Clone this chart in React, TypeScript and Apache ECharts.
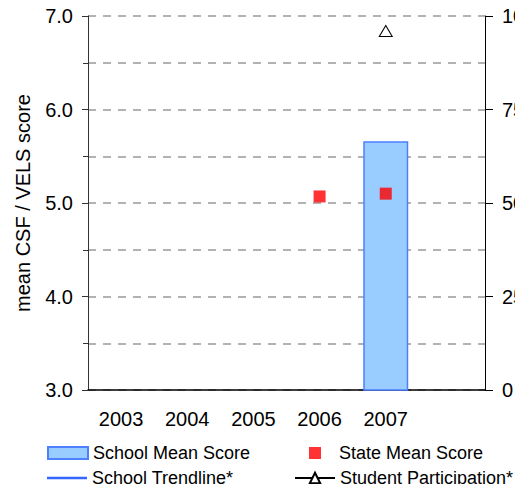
import React, { useEffect, useRef } from "react";
import * as echarts from "echarts";

const categories = ["2003", "2004", "2005", "2006", "2007", ""];
const schoolMean: (number | null)[] = [null, null, null, null, 5.66, null];
const stateMean: (number | null)[] = [null, null, null, 5.07, 5.1, null];
const schoolTrend: (number | null)[] = [null, null, null, null, null, null];
const participation: (number | null)[] = [null, null, null, null, 96, null];

const FONT = "Liberation Sans, Arial, sans-serif";

export default function App() {
  const ref = useRef<HTMLDivElement>(null);
  useEffect(() => {
    if (!ref.current) return;
    const chart = echarts.init(ref.current, null, { renderer: "svg" });
    const legendBase = {
      orient: "horizontal",
      padding: 0,
      itemWidth: 40,
      itemHeight: 13,
      itemGap: 5,
      textStyle: { fontFamily: FONT, fontSize: 18, color: "#000" },
      selectedMode: false,
    };
    chart.setOption({
      animation: false,
      backgroundColor: "#fff",
      textStyle: { fontFamily: FONT },
      grid: { left: 88, right: 30, top: 16, bottom: 94, outerBoundsMode: "none", containLabel: false },
      legend: [
        {
          ...legendBase,
          data: [{ name: "School Mean Score", icon: "rect" }],
          left: 47,
          top: 444,
          itemHeight: 12,
        },
        {
          ...legendBase,
          data: ["State Mean Score"],
          left: 309,
          top: 444,
          itemWidth: 12,
          itemHeight: 12,
          textStyle: { ...legendBase.textStyle, padding: [0, 0, 0, 13] },
        },
        {
          ...legendBase,
          data: [
            {
              name: "School Trendline*",
              icon: "path://M0,0 H40 V2.5 H0 Z",
              itemStyle: { color: "#3366ff" },
            },
          ],
          left: 47,
          top: 469,
          itemHeight: 2.5,
        },
        { ...legendBase, data: ["Student Participation*"], left: 294, top: 469 },
      ],
      xAxis: {
        type: "category",
        data: categories,
        boundaryGap: true,
        axisLine: { lineStyle: { color: "#000", width: 1.5 } },
        axisTick: { show: false },
        axisLabel: { fontFamily: FONT, fontSize: 20, color: "#000", margin: 19 },
      },
      yAxis: [
        {
          type: "value",
          min: 3,
          max: 7,
          interval: 1,
          name: "mean CSF / VELS score",
          nameLocation: "middle",
          nameGap: 55,
          nameTextStyle: { fontFamily: FONT, fontSize: 20, color: "#000" },
          axisLine: { show: true, lineStyle: { color: "#333", width: 1 } },
          axisTick: { show: true, length: 6, lineStyle: { color: "#333" } },
          minorTick: { show: true, splitNumber: 2, length: 5, lineStyle: { color: "#333" } },
          axisLabel: {
            fontFamily: FONT,
            fontSize: 20,
            color: "#000",
            margin: 15,
            formatter: (v: number) => v.toFixed(1),
          },
          splitLine: { show: true, lineStyle: { color: "#999", width: 1.5, type: [8, 7] } },
          minorSplitLine: { show: true, lineStyle: { color: "#999", width: 1.5, type: [8, 7] } },
        },
        {
          type: "value",
          min: 0,
          max: 100,
          interval: 25,
          position: "right",
          axisLine: { show: true, lineStyle: { color: "#000", width: 1 } },
          axisTick: { show: true, length: 8, lineStyle: { color: "#000" } },
          axisLabel: { fontFamily: FONT, fontSize: 20, color: "#000", margin: 17 },
          splitLine: { show: false },
        },
      ],
      series: [
        {
          name: "School Mean Score",
          type: "bar",
          data: schoolMean,
          barWidth: 45,
          itemStyle: { color: "#99ccff", borderColor: "#4d7fff", borderWidth: 1.5 },
        },
        {
          name: "State Mean Score",
          type: "scatter",
          data: stateMean,
          symbol: "rect",
          symbolSize: 12,
          itemStyle: { color: "#ff0000" },
        },
        {
          name: "School Trendline*",
          type: "line",
          data: schoolTrend,
          symbol: "none",
          lineStyle: { color: "#3366ff", width: 2 },
          itemStyle: { color: "#3366ff" },
        },
        {
          name: "Student Participation*",
          type: "line",
          yAxisIndex: 1,
          data: participation,
          symbol: "triangle",
          symbolSize: [13, 11],
          showAllSymbol: true,
          lineStyle: { color: "#000", width: 1 },
          itemStyle: { color: "#fff", borderColor: "#000", borderWidth: 1 },
        },
      ],
    });
    return () => chart.dispose();
  }, []);
  return (
    <div
      ref={ref}
      style={{ position: "absolute", left: 0, top: 0, width: 515, height: 484 }}
    />
  );
}
